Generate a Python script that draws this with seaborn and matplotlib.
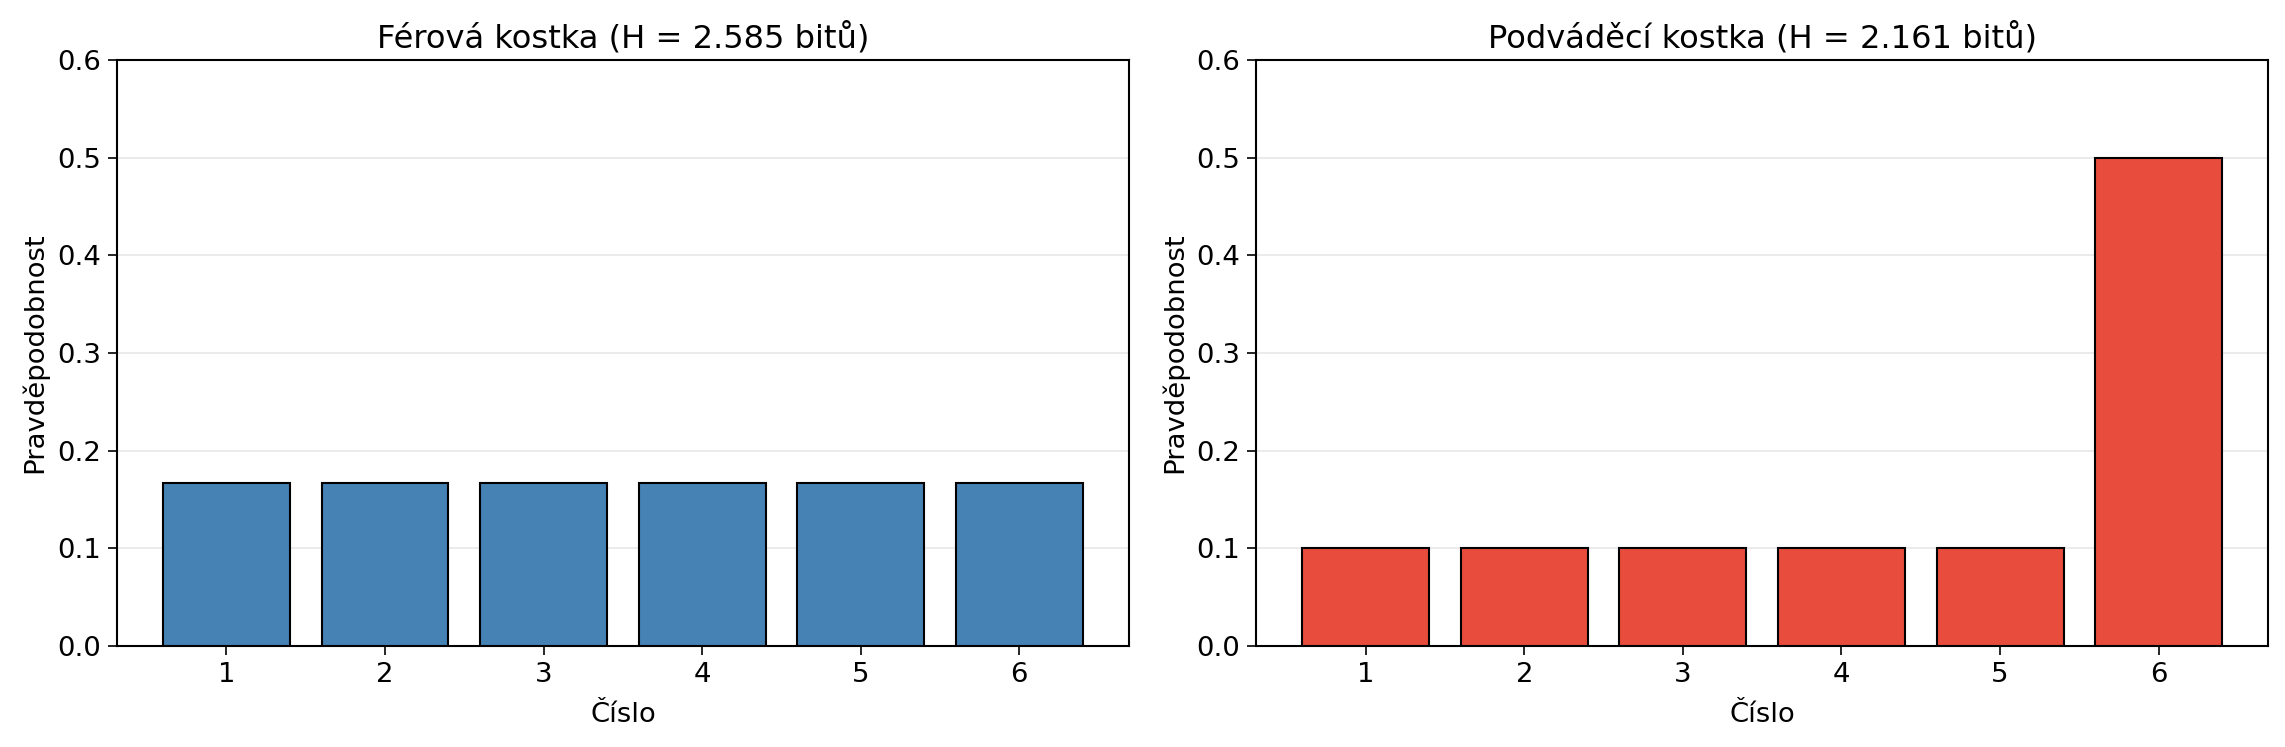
import numpy as np
import pandas as pd
import matplotlib
matplotlib.use("Agg")
import matplotlib.pyplot as plt
import seaborn as sns

# Data
faces = [1, 2, 3, 4, 5, 6]
fair_probs = [1/6, 1/6, 1/6, 1/6, 1/6, 1/6]
loaded_probs = [0.1, 0.1, 0.1, 0.1, 0.1, 0.5]
titles = ["Férová kostka (H = 2.585 bitů)", "Podváděcí kostka (H = 2.161 bitů)"]
colors = ["#4682B4", "#E74C3C"]

sns.set_style("ticks")
plt.rcParams['font.family'] = ['DejaVu Sans']
plt.rcParams.update({'text.color': 'black', 'axes.labelcolor': 'black',
                     'xtick.color': 'black', 'ytick.color': 'black',
                     'axes.edgecolor': 'black'})

fig, axes = plt.subplots(1, 2, figsize=(2285/150, 747/150), dpi=150)
fig.subplots_adjust(left=0.0512, right=0.9926, top=0.9197, bottom=0.1352, wspace=0.126)

for ax, probs, title, color in zip(axes, [fair_probs, loaded_probs], titles, colors):
    df = pd.DataFrame({'face': faces, 'p': probs})
    sns.barplot(data=df, x='face', y='p', ax=ax, color=color, saturation=1,
                edgecolor='black', linewidth=1.0, width=0.8, zorder=3)
    ax.set_xlim(-0.69, 5.69)
    ax.set_ylim(0, 0.6)
    ax.set_title(title, fontsize=15.4)
    ax.set_xlabel('Číslo', fontsize=13.2, labelpad=6.5)
    ax.set_ylabel('Pravděpodobnost', fontsize=13.2)
    ax.tick_params(labelsize=13.2, length=4.2)
    ax.grid(axis='y', color='#b0b0b0', alpha=0.3, zorder=0)
    for s in ax.spines.values():
        s.set_visible(True)
        s.set_linewidth(1.0)

fig.savefig("out.png", dpi=150)
